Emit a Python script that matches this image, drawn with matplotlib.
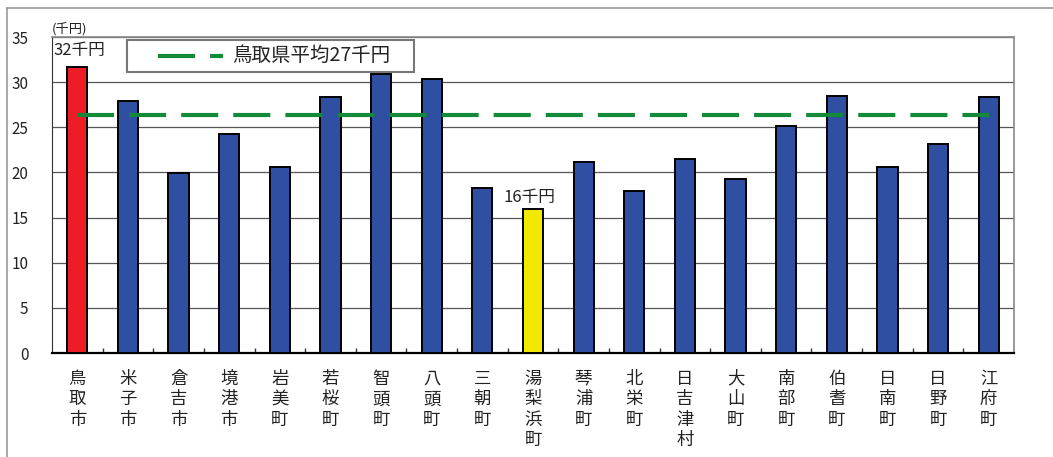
import numpy as np
import matplotlib
matplotlib.use("Agg")
import matplotlib.pyplot as plt
from matplotlib.lines import Line2D
from matplotlib.patches import Rectangle

plt.rcParams['font.family'] = ['Noto Sans CJK JP', 'DejaVu Sans']

# data (千円)
towns = ['鳥取市', '米子市', '倉吉市', '境港市', '岩美町', '若桜町', '智頭町', '八頭町', '三朝町',
         '湯梨浜町', '琴浦町', '北栄町', '日吉津村', '大山町', '南部町', '伯耆町', '日南町', '日野町', '江府町']
values = [31.7, 27.9, 19.9, 24.3, 20.6, 28.3, 30.9, 30.4, 18.3,
          15.9, 21.2, 17.9, 21.5, 19.3, 25.1, 28.5, 20.6, 23.2, 28.3]
pref_avg = 26.4
avg_label = '鳥取県平均27千円'
notes = {0: '32千円', 9: '16千円'}

blue = '#2f4fa2'
green = '#13893a'
colors = [blue] * len(towns)
colors[0] = '#ee1c24'
colors[9] = '#f2e900'

fig = plt.figure(figsize=(10.53, 4.57), dpi=100)
ax = fig.add_axes([52/1053, 1-353/457, (1014-52)/1053, (353-37)/457])

x = np.arange(len(towns))
ax.bar(x, values, width=0.4, color=colors, edgecolor='black', linewidth=1.4, zorder=3)
ax.plot([x[0], x[-1]], [pref_avg, pref_avg], color=green, linewidth=3,
        dashes=(8.9, 3.6), zorder=4)

ax.set_xlim(-0.5, len(towns) - 0.5)
ax.set_ylim(0, 35)
ax.set_yticks(np.arange(0, 36, 5))
ax.yaxis.grid(True, color='#555555', linewidth=0.9, zorder=0)
ax.tick_params(axis='y', length=0, pad=17, labelsize=11, labelcolor='#222222')

ax.set_xticks(x)
ax.set_xticklabels(['\n'.join(t) for t in towns], fontsize=12.5, linespacing=1.18, color='#222222')
ax.tick_params(axis='x', which='major', length=0, pad=12)
ax.set_xticks(x[:-1] + 0.5, minor=True)
ax.tick_params(axis='x', which='minor', direction='in', length=3.5, width=1, color='#333333')

for s in ['top', 'right']:
    ax.spines[s].set_color('#888888')
    ax.spines[s].set_linewidth(1.2)
ax.spines['left'].set_color('#333333')
ax.spines['bottom'].set_color('black')
ax.spines['bottom'].set_linewidth(1.6)

ax.text(x[0] + 0.05, 33.5, notes[0], ha='center', va='center', fontsize=12, color='#222222')
ax.text(x[9] - 0.08, 17.2, notes[9], ha='center', va='center', fontsize=12, color='#222222')

fig.text(52/1053, 1-29/457, '(千円)', fontsize=9.5, va='center', ha='left', color='#222222')

# legend box drawn by hand to match the original layout
ax.add_patch(Rectangle((0.078, 0.889), 0.298, 0.1015, transform=ax.transAxes,
                       facecolor='white', edgecolor='#777777', linewidth=1.5, zorder=5))
ax.add_line(Line2D([0.110, 0.178], [0.940, 0.940], transform=ax.transAxes, color=green,
                   linewidth=3, dashes=(8.9, 3.6), zorder=6))
ax.text(0.187, 0.940, avg_label, transform=ax.transAxes, fontsize=14, va='center', ha='left',
        color='#222222', zorder=6)

# outer frame (left and top)
fig.add_artist(Line2D([7/1053, 7/1053], [0, 1-8/457], color='#999999', linewidth=1.2))
fig.add_artist(Line2D([7/1053, 1], [1-8/457, 1-8/457], color='#999999', linewidth=1.2))

fig.savefig('out.png', dpi=100)
